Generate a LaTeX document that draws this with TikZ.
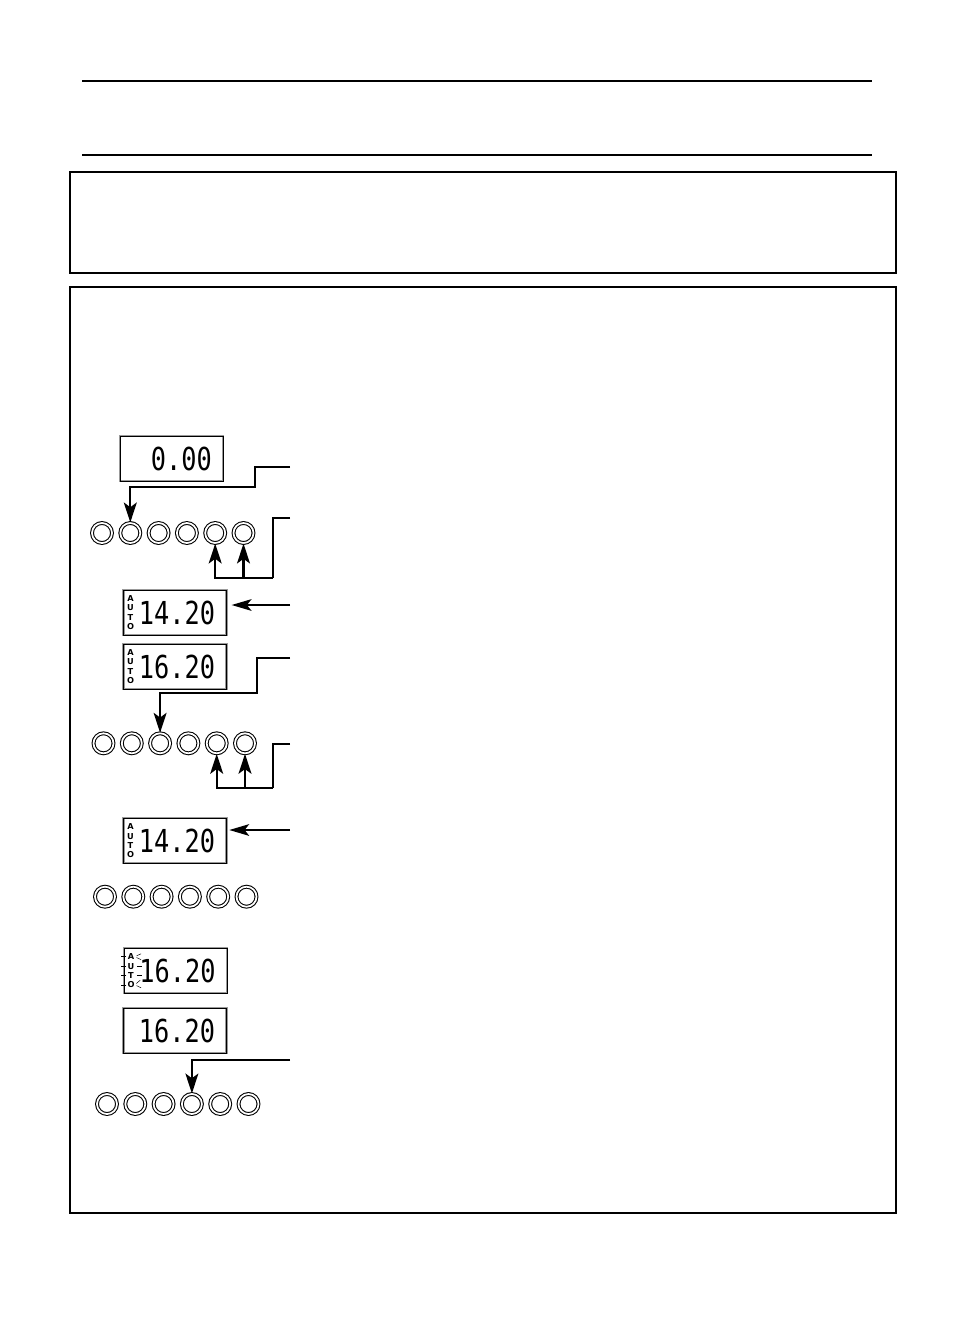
\documentclass[tikz,border=0pt]{standalone}
\usepackage{fontspec}
\newfontfamily\segfont{DejaVu Sans Mono}
\newfontfamily\tagfont{DejaVu Sans}
\usetikzlibrary{arrows.meta, positioning, calc}

\newcommand{\lcd}[1]{\scalebox{0.8}[1]{#1}}

\tikzset{
  panel/.style={draw, line width=1.2pt},
  rule/.style={line width=2.2pt},
  display/.style={draw, line width=0.8pt, preaction={draw=black!40, line width=1.8pt},
    minimum width=3.09cm, minimum height=1.35cm, inner xsep=0.34cm,
    text width=2.41cm, align=right, font=\segfont\fontsize{27}{27}\selectfont},
  autotag/.style={font=\tagfont\bfseries\fontsize{7}{8}\selectfont, align=center, inner sep=0pt},
  key/.style={circle, draw, line width=0.9pt, double, double distance=1.5pt, minimum size=0.6cm},
  feed/.style={line width=2pt, -{Stealth[length=17pt,width=11pt,inset=4pt]}},
  pointer/.style={line width=1.2pt, -{Stealth[length=17pt,width=10pt,inset=4pt]}},
  ray/.style={line width=0.4pt},
}

\begin{document}
\begin{tikzpicture}[x=0.03cm,y=-0.03cm]
  \useasboundingbox (0,0) rectangle (954,1335);

  % page header
  \draw[rule] (82,81) -- (872,81);
  \draw[rule] (82,155) -- (872,155);
  \draw[panel] (70,172) rectangle (896,273);
  \draw[panel] (70,287) rectangle (896,1213);

  % displays
  \node[display] (d1) at (171.7,458.5) {\lcd{0.00}};
  \node[display] (d2) at (175,612.5) {\lcd{14.20}};
  \node[display] (d3) at (175,666.7) {\lcd{16.20}};
  \node[display] (d4) at (175,840.8) {\lcd{14.20}};
  \node[display] (d5) at (175.5,970.8) {\lcd{16.20}};
  \node[display] (d6) at (175,1030.8) {\lcd{16.20}};

  % AUTO tags
  \foreach \d in {2,3,4,5}
    \node[autotag] (t\d) at ($(d\d.west)+(7.5,0)$) {A\\U\\T\\O};

  % blinking AUTO
  \foreach \yy in {956.7,966,975.4,984.8} {
    \draw[ray] ($(t5.west |- 0,\yy)+(-1,0)$) -- ++(-5,0);
  }
  \foreach \yy/\ang in {956.7/25,956.7/-25,984.8/25,984.8/-40,966/0,975.4/0} {
    \draw[ray] ($(t5.east |- 0,\yy)+(\ang:2)$) -- ++(\ang:5);
  }

  % keypads
  \foreach \r/\x/\y in {a/102/533, b/103.5/743.3, c/105/896.7, d/107/1104}
    \foreach \i in {1,...,6}
      \node[key] (key\r\i) at ({\x+28.3*(\i-1)},\y) {};

  % connectors, first step
  \coordinate (in1) at (290,466.7);
  \draw[feed] (in1) -| ++(-35,20) -| (keya2.north);
  \coordinate (in2) at (290,518.3);
  \coordinate (jn2) at (272.7,578.3);
  \draw[line width=2pt] (in2) -| (jn2);
  \draw[feed] (jn2) -| (keya5.south);
  \draw[feed] (keya6 |- jn2) -- (keya6.south);
  \coordinate (in3) at (290,605);
  \draw[pointer, shorten >=4pt] (in3) -- (d2.east |- in3);

  % connectors, second step
  \coordinate (in4) at (290,658.3);
  \draw[feed] (in4) -| ++(-33.3,35) -| (keyb3.north);
  \coordinate (in5) at (290,744);
  \coordinate (jn5) at (272.7,788.3);
  \draw[line width=2pt] (in5) -| (jn5);
  \draw[feed] (jn5) -| (keyb5.south);
  \draw[feed] (keyb6 |- jn5) -- (keyb6.south);
  \coordinate (in6) at (290,830);
  \draw[pointer, shorten >=2pt] (in6) -- (d4.east |- in6);

  % connector, last step
  \coordinate (in7) at (290,1060);
  \draw[feed] (in7) -| (keyd4.north);
\end{tikzpicture}
\end{document}
